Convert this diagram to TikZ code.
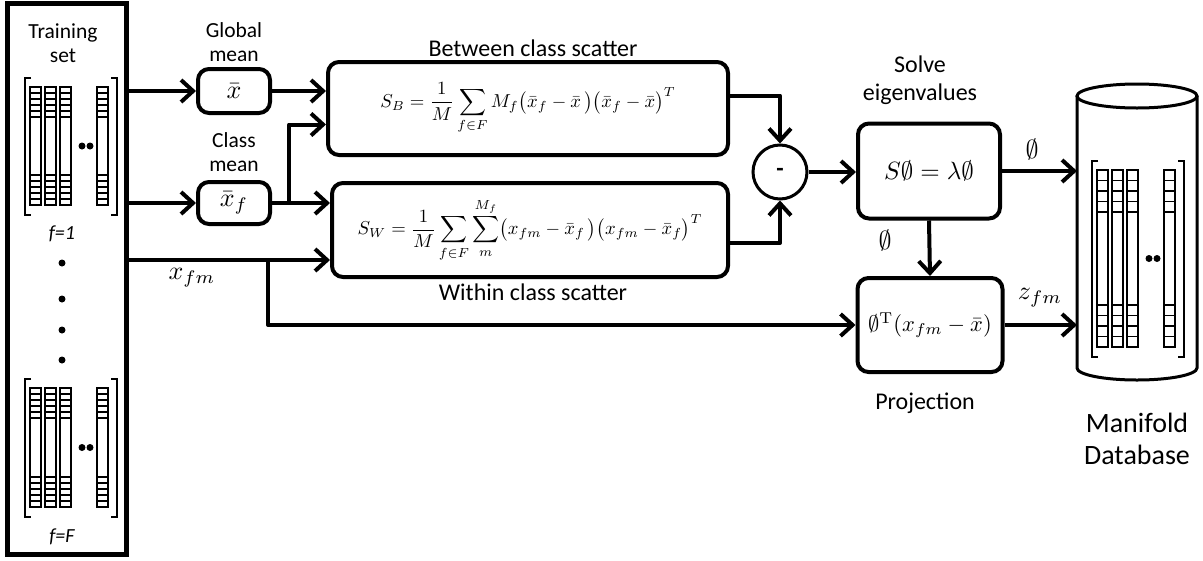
\documentclass[tikz,border=0pt]{standalone}
\usepackage{graphicx}
\usepackage[no-math]{fontspec}
\setmainfont{Carlito}
\usetikzlibrary{arrows.meta,calc}
\newcommand\featcol[5]{% x top bot n h
  \draw[line width=2pt] (#1,#2) rectangle (#1+11,#3);
  \foreach \i in {1,...,#4}{%
    \draw[line width=1.6pt] (#1,#2+#5*\i) -- (#1+11,#2+#5*\i);
    \draw[line width=1.6pt] (#1,#3-#5*\i) -- (#1+11,#3-#5*\i);}
}
\newcommand\featmat[5]{% x0 top bot n h
  \draw[line width=2pt] (#1+6,#2-9) -- (#1,#2-9) -- (#1,#3+10) -- (#1+6,#3+10);
  \draw[line width=2pt] (#1+86,#2-9) -- (#1+92,#2-9) -- (#1+92,#3+10) -- (#1+86,#3+10);
  \featcol{#1+5}{#2}{#3}{#4}{#5}
  \featcol{#1+20}{#2}{#3}{#4}{#5}
  \featcol{#1+35}{#2}{#3}{#4}{#5}
  \featcol{#1+72}{#2}{#3}{#4}{#5}
  \fill (#1+57,{(#2+#3)/2}) circle (3.5);
  \fill (#1+65,{(#2+#3)/2}) circle (3.5);
}
\newcommand\mybigmath[1]{\scalebox{1.87}{$\displaystyle #1$}}
\newcommand\mysmallmath[1]{\scalebox{2.6}{$#1$}}
\tikzset{
  box/.style={draw, line width=4pt, rounded corners=11pt, inner sep=2pt},
  conn/.style={line width=4pt, line join=round, -{Straight Barb[length=12pt,width=22pt]}},
  plain/.style={line width=4pt, line join=round},
  lbl/.style={align=center, inner sep=0pt, font=\fontsize{21.5}{24}\selectfont},
  biglbl/.style={align=center, inner sep=0pt, font=\fontsize{24}{28}\selectfont},
}
\begin{document}
\begin{tikzpicture}[x=1pt,y=-1pt]
\useasboundingbox (0,0) rectangle (1203,560);
% training set box
\node[draw, line width=5pt, minimum width=119pt, minimum height=551pt, inner sep=0pt] (trainbox) at (66.5,278.5) {};
\node[lbl] (tsl) at (63,43) {Training\\set};
\featmat{25}{87}{205}{5}{6}
\node[lbl, font=\fontsize{20}{23}\selectfont\itshape] (f1) at (62,234) {f=1};
\foreach \yy [count=\k] in {263,299,330,360} \fill (62,\yy) circle (3.5);
\featmat{25}{388}{507}{5}{6}
\node[lbl, font=\fontsize{20}{23}\selectfont\itshape] (fF) at (62,537) {f=F};

% means
\node[box, minimum width=72pt, minimum height=44pt] (gmean) at (234,91) {\mysmallmath{\bar{x}}};
\node[lbl] (gml) at (234,42) {Global\\mean};
\node[box, minimum width=72pt, minimum height=42pt] (cmean) at (234,203) {\mysmallmath{\bar{x}_f}};
\node[lbl] (cml) at (234,152) {Class\\mean};

% scatter boxes
\node[box, minimum width=400pt, minimum height=93pt] (between) at (528,108.5)
  {\mybigmath{S_B=\frac{1}{M}\sum_{f\in F}M_f\bigl(\bar{x}_f-\bar{x}\,\bigr)\bigl(\bar{x}_f-\bar{x}\bigr)^T}};
\node[biglbl] (bl) at (533,48) {Between class scatter};
\node[box, minimum width=396pt, minimum height=94pt] (within) at (530,230)
  {\mybigmath{S_W=\frac{1}{M}\sum_{f\in F}\sum_{m}^{M_f}\bigl(x_{fm}-\bar{x}_f\,\bigr)\bigl(x_{fm}-\bar{x}_f\bigr)^T}};
\node[biglbl] (wl) at (533,292) {Within class scatter};

% minus
\node[draw, circle, line width=3pt, minimum size=54pt, inner sep=0pt, font=\fontsize{24}{24}\selectfont\bfseries] (minus) at (780,172) {-};

% solve
\node[box, minimum width=142pt, minimum height=95pt] (solve) at (929,171) {\scalebox{2.5}{$S\emptyset=\lambda\emptyset$}};
\node[biglbl] (sl) at (920,80) {Solve\\eigenvalues};

% projection
\node[box, minimum width=145pt, minimum height=94pt] (proj) at (930,325) {\scalebox{2.25}{$\emptyset^{\mathrm{T}}(x_{fm}-\bar{x})$}};
\node[biglbl] (pl) at (925,403) {Projection};

% cylinder
\draw[line width=3pt] (1077,96) -- (1077,368) arc[start angle=180, end angle=0, x radius=60, y radius=12] -- (1197,96);
\draw[line width=3pt] (1137,96) ellipse[x radius=60, y radius=12];
\featmat{1092}{170}{347}{4}{10.5}
\node[biglbl, font=\fontsize{28}{32}\selectfont] (ml) at (1137,439) {Manifold\\Database};
\coordinate (cylA) at (1077,171);
\coordinate (cylB) at (1077,325);

% connectors
\draw[conn] (trainbox.east |- gmean.west) -- (gmean.west);
\draw[conn] (trainbox.east |- cmean.west) -- (cmean.west);
\coordinate (wIn) at ($(within.west)+(0,30)$);
\draw[conn] (trainbox.east |- wIn) -- (wIn);
\coordinate (br) at (268,260);
\draw[conn] (br) |- (proj.west);
\node (xfm) at (192,278) {\mysmallmath{x_{fm}}};

\draw[conn] (gmean.east) -- (gmean.east -| between.west);
\coordinate (cb) at ($(cmean.east)+(17,0)$);
\coordinate (bIn) at ($(between.west)+(0,16)$);
\draw[plain] (cmean.east) -- (cb);
\draw[conn] (cb) |- (bIn);
\draw[conn] (cmean.east) -- (cmean.east -| within.west);

\coordinate (bOut) at ($(between.east)+(0,-13)$);
\coordinate (wOut) at ($(within.east)+(0,13)$);
\draw[conn] (bOut) -| (minus.north);
\draw[conn] (wOut) -| (minus.south);
\draw[conn] (minus.east) -- (minus.east -| solve.west);

\draw[conn] (solve.east) -- (cylA);
\node (phi1) at (1032,149) {\mysmallmath{\emptyset}};
\draw[conn] (solve.south) -- (proj.north);
\node (phi2) at (885,240) {\mysmallmath{\emptyset}};
\draw[conn] (proj.east) -- (cylB);
\node (zfm) at (1040,298) {\mysmallmath{z_{fm}}};
\end{tikzpicture}
\end{document}
